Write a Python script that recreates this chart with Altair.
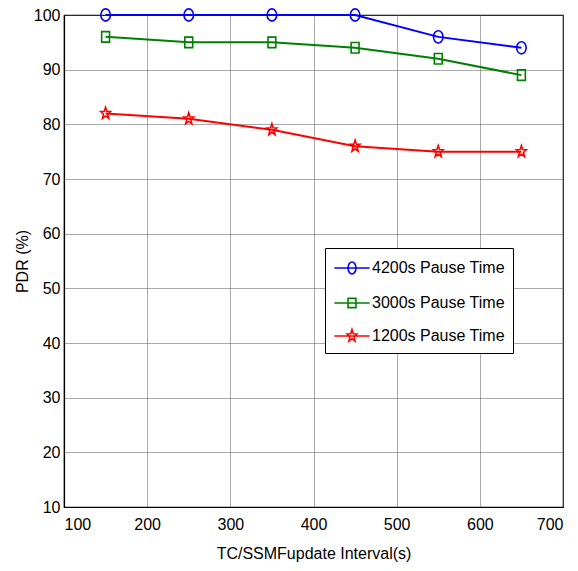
import math
import altair as alt
import pandas as pd

# ---- data ----
x_vals = [150, 250, 350, 450, 550, 650]
pdr_4200 = [100, 100, 100, 100, 96, 94]
pdr_3000 = [96, 95, 95, 94, 92, 89]
pdr_1200 = [82, 81, 79, 76, 75, 75]
series_names = ["4200s Pause Time", "3000s Pause Time", "1200s Pause Time"]
series_colors = ["#0000ff", "#008000", "#ff0000"]
x_ticks = [100, 200, 300, 400, 500, 600, 700]
y_ticks = [10, 20, 30, 40, 50, 60, 70, 80, 90, 100]

rows = []
for name, vals in zip(series_names, [pdr_4200, pdr_3000, pdr_1200]):
    for xv, yv in zip(x_vals, vals):
        rows.append({"x": xv, "y": yv, "series": name})
df = pd.DataFrame(rows)

FONT = "Liberation Sans"


def star_path(rx, ry, inner=0.42, cx=0.0):
    pts = []
    for k in range(10):
        ang = math.radians(-90 + 36 * k)
        r = 1.0 if k % 2 == 0 else inner
        pts.append((cx + rx * r * math.cos(ang), ry * r * math.sin(ang)))
    d = "M" + "L".join(f"{px:.3f},{py:.3f}" for px, py in pts) + "Z"
    return d


# plot marker shapes (slightly tall, as in the reference)
circ_plot = "M0,-1A0.78,1 0 1,1 0,1A0.78,1 0 1,1 0,-1Z"
sq_plot = "M-0.75,-1H0.75V1H-0.75Z"
star_plot = star_path(0.85, 1.0)

# legend symbol shapes: line with marker
L = 1.6
leg_circ = f"M-{L},0H{L}M0,-0.55A0.36,0.55 0 1,1 0,0.55A0.36,0.55 0 1,1 0,-0.55Z"
leg_sq = f"M-{L},0H{L}M-0.36,-0.42H0.36V0.42H-0.36Z"
leg_star = f"M-{L},0H{L}" + star_path(0.47, 0.58)

# colour scale for the drawn lines/markers (data-driven domain, alphabetical order)
color_map = dict(zip(series_names, series_colors))
sorted_names = sorted(series_names)
color_scale = alt.Scale(range=[color_map[n] for n in sorted_names])

x_enc = alt.X(
    "x:Q",
    scale=alt.Scale(domain=[100, 700], nice=False, zero=False),
    axis=alt.Axis(
        values=x_ticks, title="TC/SSMFupdate Interval(s)", format="d",
        titleX=249.5, titleY=46, titleBaseline="middle", titleAlign="center",
        labelPadding=9,
    ),
)
y_enc = alt.Y(
    "y:Q",
    scale=alt.Scale(domain=[10, 100], nice=False, zero=False),
    axis=alt.Axis(
        values=y_ticks, title="PDR  (%)", format="d",
        titleX=-42, titleY=246, titleAngle=-90, titleBaseline="middle",
        titleAlign="center", labelPadding=4,
    ),
)

base = alt.Chart(df)

lines = base.mark_line(strokeWidth=2).encode(
    x=x_enc, y=y_enc,
    color=alt.Color("series:N", scale=color_scale, legend=None),
)

point_layers = []
for name, shp, size in zip(series_names, [circ_plot, sq_plot, star_plot], [150, 110, 150]):
    point_layers.append(
        base.transform_filter(alt.datum.series == name)
        .mark_point(shape=shp, size=size, filled=False, strokeWidth=1.6, opacity=1)
        .encode(
            x="x:Q", y="y:Q",
            color=alt.Color("series:N", scale=color_scale, legend=None),
        )
    )

legend_props = dict(
    title=None, orient="none", legendX=261, legendY=233,
    strokeColor="black", fillColor="white", padding=8,
    symbolSize=484, symbolStrokeWidth=1.6, symbolOffset=7,
    symbolFillColor="transparent", symbolOpacity=1,
    labelOffset=8, rowPadding=13,
    labelFont=FONT, labelFontSize=16, labelColor="black",
    labelLimit=300,
)

legend_layer = (
    base.mark_point(filled=False, strokeWidth=1.6, opacity=0)
    .encode(
        x="x:Q", y="y:Q",
        shape=alt.Shape(
            "series:N",
            scale=alt.Scale(domain=series_names, range=[leg_circ, leg_sq, leg_star]),
            legend=alt.Legend(**legend_props),
        ),
        stroke=alt.Stroke(
            "series:N",
            scale=alt.Scale(domain=series_names, range=series_colors),
            legend=alt.Legend(**legend_props),
        ),
    )
)

chart = (
    alt.layer(lines, *point_layers, legend_layer)
    .properties(
        width=499, height=492,
        autosize=alt.AutoSizeParams(type="none"),
        padding={"left": 64, "top": 15, "right": 15, "bottom": 64},
        background="white",
    )
    .configure_view(stroke="black", strokeWidth=1.2)
    .configure_axis(
        labelFont=FONT, labelFontSize=16, labelColor="black",
        titleFont=FONT, titleFontSize=16, titleColor="black", titleFontWeight="normal",
        domain=True, domainColor="black", domainWidth=1.2,
        ticks=False,
        grid=True, gridColor="#555555", gridDash=[1, 1], gridWidth=1,
    )
)

chart.save("out.html", embed_options={"renderer": "svg", "actions": False})
